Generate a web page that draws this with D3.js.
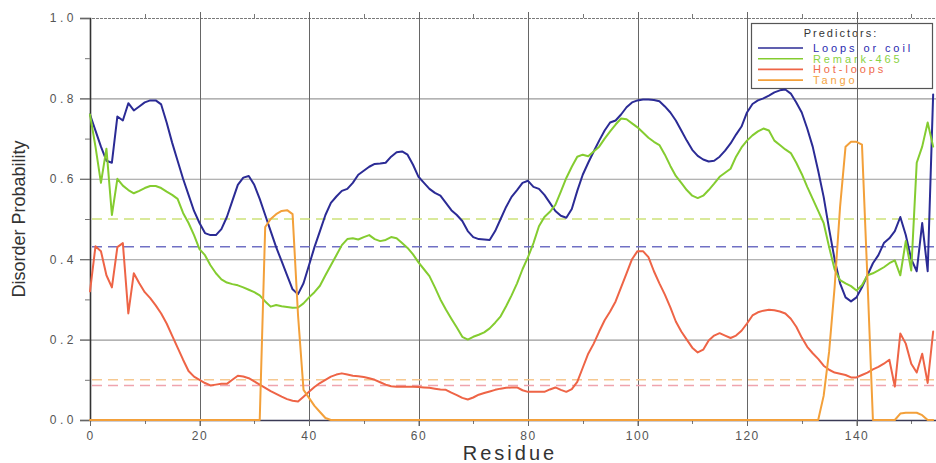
<!DOCTYPE html>
<html>
<head>
<meta charset="utf-8">
<script src="https://cdn.jsdelivr.net/npm/d3@7"></script>
<style>
  html, body { margin: 0; padding: 0; background: #fff; }
  svg { display: block; }
  text { font-family: "Liberation Sans", Arial, sans-serif; }
</style>
</head>
<body>
<svg id="chart" width="936" height="463"></svg>
<script>
// Disorder probability per residue for four predictors
const seriesNames = ["Loops or coil", "Remark-465", "Hot-loops", "Tango"];

const loopsOrCoil = [
  0.76, 0.72, 0.68, 0.645, 0.64, 0.755, 0.745, 0.788, 0.77, 0.78,
  0.79, 0.795, 0.795, 0.785, 0.74, 0.69, 0.645, 0.60, 0.56, 0.52,
  0.49, 0.465, 0.46, 0.46, 0.475, 0.505, 0.545, 0.585, 0.603, 0.607,
  0.585, 0.55, 0.51, 0.47, 0.43, 0.395, 0.36, 0.325, 0.313, 0.34,
  0.385, 0.43, 0.47, 0.51, 0.54, 0.556, 0.57, 0.575, 0.59, 0.61,
  0.62, 0.63, 0.637, 0.638, 0.64, 0.655, 0.666, 0.668, 0.66, 0.635,
  0.605, 0.59, 0.575, 0.565, 0.558, 0.54, 0.522, 0.51, 0.495, 0.47,
  0.455, 0.45, 0.449, 0.448, 0.47, 0.50, 0.53, 0.555, 0.572, 0.59,
  0.595, 0.58, 0.575, 0.56, 0.54, 0.52, 0.508, 0.503, 0.525, 0.57,
  0.61, 0.64, 0.668, 0.695, 0.72, 0.74, 0.745, 0.76, 0.778, 0.79,
  0.795, 0.797, 0.797, 0.796, 0.793, 0.78, 0.765, 0.745, 0.72, 0.695,
  0.672, 0.657, 0.648, 0.643, 0.645, 0.655, 0.67, 0.688, 0.71, 0.73,
  0.765, 0.786, 0.795, 0.80, 0.807, 0.815, 0.82, 0.822, 0.812, 0.79,
  0.765, 0.725, 0.68, 0.62, 0.555, 0.475, 0.40, 0.34, 0.305, 0.295,
  0.305, 0.33, 0.36, 0.39, 0.41, 0.44, 0.452, 0.47, 0.505, 0.46,
  0.40, 0.37, 0.49, 0.37, 0.81
];

const remark465 = [
  0.76, 0.68, 0.59, 0.675, 0.51, 0.60, 0.583, 0.572, 0.564, 0.57,
  0.577, 0.582, 0.582, 0.577, 0.568, 0.56, 0.55, 0.515, 0.49, 0.46,
  0.425, 0.41, 0.385, 0.365, 0.35, 0.342, 0.338, 0.335, 0.33, 0.324,
  0.318, 0.31, 0.295, 0.282, 0.286, 0.283, 0.281, 0.279, 0.28, 0.29,
  0.305, 0.318, 0.334, 0.36, 0.385, 0.41, 0.435, 0.45, 0.452, 0.449,
  0.455, 0.46, 0.45, 0.445, 0.448, 0.455, 0.452, 0.44, 0.428, 0.412,
  0.392, 0.375, 0.358, 0.33, 0.30, 0.275, 0.252, 0.23, 0.207, 0.20,
  0.207, 0.212, 0.218, 0.228, 0.242, 0.258, 0.283, 0.31, 0.34, 0.375,
  0.405, 0.44, 0.482, 0.505, 0.518, 0.535, 0.568, 0.602, 0.63, 0.655,
  0.66, 0.656, 0.668, 0.68, 0.70, 0.718, 0.735, 0.75, 0.748, 0.738,
  0.728, 0.715, 0.702, 0.692, 0.684, 0.66, 0.632, 0.607, 0.59, 0.572,
  0.558, 0.552, 0.558, 0.572, 0.588, 0.605, 0.615, 0.625, 0.655, 0.678,
  0.695, 0.708, 0.718, 0.725, 0.72, 0.695, 0.684, 0.673, 0.664, 0.64,
  0.612, 0.58, 0.55, 0.52, 0.49, 0.43, 0.375, 0.348, 0.34, 0.333,
  0.322, 0.335, 0.36, 0.365, 0.372, 0.38, 0.39, 0.397, 0.36, 0.445,
  0.372, 0.64, 0.68, 0.74, 0.68
];

const hotLoops = [
  0.32, 0.432, 0.42, 0.36, 0.33, 0.43, 0.44, 0.265, 0.365, 0.34,
  0.318, 0.303, 0.285, 0.265, 0.24, 0.21, 0.18, 0.15, 0.122, 0.108,
  0.10, 0.092, 0.086, 0.088, 0.09, 0.09, 0.10, 0.11, 0.108, 0.104,
  0.096, 0.088, 0.08, 0.072, 0.065, 0.058, 0.052, 0.048, 0.046, 0.058,
  0.07, 0.082, 0.092, 0.10, 0.108, 0.113, 0.116, 0.113, 0.11, 0.109,
  0.107, 0.104, 0.10, 0.094, 0.088, 0.084, 0.083, 0.083, 0.083, 0.083,
  0.082, 0.081, 0.08, 0.078, 0.076, 0.075, 0.068, 0.062, 0.055, 0.051,
  0.056, 0.063, 0.067, 0.071, 0.075, 0.078, 0.08, 0.081, 0.081, 0.074,
  0.07, 0.07, 0.07, 0.07, 0.076, 0.081, 0.075, 0.07, 0.077, 0.095,
  0.13, 0.165, 0.19, 0.22, 0.248, 0.27, 0.295, 0.33, 0.365, 0.40,
  0.42, 0.42, 0.405, 0.37, 0.34, 0.312, 0.28, 0.245, 0.22, 0.20,
  0.18, 0.168, 0.175, 0.198, 0.21, 0.216, 0.21, 0.204, 0.21, 0.222,
  0.24, 0.26, 0.268, 0.272, 0.274, 0.273, 0.27, 0.265, 0.252, 0.232,
  0.205, 0.182, 0.166, 0.152, 0.135, 0.125, 0.118, 0.115, 0.112, 0.106,
  0.106, 0.112, 0.118, 0.126, 0.132, 0.14, 0.15, 0.083, 0.215, 0.19,
  0.14, 0.118, 0.165, 0.092, 0.22
];

const tango = [
  0, 0, 0, 0, 0, 0, 0, 0, 0, 0,
  0, 0, 0, 0, 0, 0, 0, 0, 0, 0,
  0, 0, 0, 0, 0, 0, 0, 0, 0, 0,
  0, 0, 0.48, 0.50, 0.512, 0.52, 0.522, 0.512, 0.26, 0.075,
  0.055, 0.035, 0.02, 0.005, 0, 0, 0, 0, 0, 0,
  0, 0, 0, 0, 0, 0, 0, 0, 0, 0,
  0, 0, 0, 0, 0, 0, 0, 0, 0, 0,
  0, 0, 0, 0, 0, 0, 0, 0, 0, 0,
  0, 0, 0, 0, 0, 0, 0, 0, 0, 0,
  0, 0, 0, 0, 0, 0, 0, 0, 0, 0,
  0, 0, 0, 0, 0, 0, 0, 0, 0, 0,
  0, 0, 0, 0, 0, 0, 0, 0, 0, 0,
  0, 0, 0, 0, 0, 0, 0, 0, 0, 0,
  0, 0, 0, 0, 0.06, 0.17, 0.33, 0.53, 0.68, 0.692,
  0.692, 0.685, 0.35, 0, 0, 0, 0, 0, 0.016, 0.018,
  0.018, 0.018, 0.012, 0, 0
];

// Cut-off level of each predictor (drawn dashed)
const thresholdNames = ["Remark-465", "Loops or coil", "Tango", "Hot-loops"];
const thresholdValues = [0.5, 0.431, 0.1, 0.086];

const xTicks = [0, 20, 40, 60, 80, 100, 120, 140];
const xMinorTicks = [10, 30, 50, 70, 90, 110, 130, 150];
const yTicks = [0.0, 0.2, 0.4, 0.6, 0.8, 1.0];
const yMinorTicks = [0.1, 0.3, 0.5, 0.7, 0.9];

const lineColors = {
  "Loops or coil": "#2b2b95",
  "Remark-465": "#84cc30",
  "Hot-loops": "#ee6446",
  "Tango": "#f3a03a"
};
const textColors = {
  "Loops or coil": "#2a2ab0",
  "Remark-465": "#8ad243",
  "Hot-loops": "#f06a4a",
  "Tango": "#f4a443"
};
const dashColors = {
  "Loops or coil": "#7070c4",
  "Remark-465": "#cde27a",
  "Hot-loops": "#efa4ae",
  "Tango": "#f6c890"
};

const svg = d3.select("#chart");
const W = 936, H = 463;
const plotLeft = 90, plotTop = 18, plotBottom = 420;

const x = d3.scaleLinear().domain([0, 155]).range([plotLeft, plotLeft + 155 * 5.475]);
const y = d3.scaleLinear().domain([0, 1]).range([plotBottom, plotTop]);
const rightEdge = W;

// Legend box (grid lines are drawn over it)
const lg = svg.append("g");
lg.append("rect")
  .attr("x", 751.5).attr("y", 23.5).attr("width", 181).attr("height", 65)
  .attr("fill", "#fff").attr("stroke", "#555").attr("stroke-width", 1.2);
lg.append("text")
  .attr("x", 841).attr("y", 37)
  .attr("text-anchor", "middle")
  .attr("font-size", 11).attr("letter-spacing", 2)
  .attr("fill", "#333")
  .text("Predictors:");
seriesNames.forEach((name, i) => {
  const yy = 48 + i * 10.7;
  lg.append("line")
    .attr("x1", 758).attr("x2", 803).attr("y1", yy).attr("y2", yy)
    .attr("stroke", lineColors[name]).attr("stroke-width", 1.6);
  lg.append("text")
    .attr("x", 813).attr("y", yy + 4)
    .attr("font-size", 11).attr("letter-spacing", 2.9)
    .attr("fill", textColors[name])
    .text(name);
});

// Horizontal grid at the major y ticks
const grid = svg.append("g");
grid.selectAll("line.h")
  .data(yTicks.filter(v => v > 0 && v < 1))
  .join("line")
  .attr("x1", plotLeft - 10).attr("x2", rightEdge)
  .attr("y1", d => y(d) + 0.5).attr("y2", d => y(d) + 0.5)
  .attr("stroke", "#9a9a9a").attr("stroke-width", 1.1);

// Top border line
grid.append("line")
  .attr("x1", plotLeft - 10).attr("x2", rightEdge)
  .attr("y1", y(1) + 0.5).attr("y2", y(1) + 0.5)
  .attr("stroke", "#7a7a7a").attr("stroke-width", 1).attr("stroke-dasharray", "3,1");

// Vertical grid at the major x ticks
grid.selectAll("line.v")
  .data(xTicks.filter(v => v > 0))
  .join("line")
  .attr("x1", d => Math.round(x(d)) + 0.5).attr("x2", d => Math.round(x(d)) + 0.5)
  .attr("y1", plotTop - 6).attr("y2", plotBottom + 6)
  .attr("stroke", "#666").attr("stroke-width", 1);

// Minor ticks on the top and bottom edges
grid.selectAll("line.tm")
  .data(xMinorTicks.filter(v => x(v) < W))
  .join("line")
  .attr("x1", d => Math.round(x(d)) + 0.5).attr("x2", d => Math.round(x(d)) + 0.5)
  .attr("y1", plotTop - 4).attr("y2", plotTop)
  .attr("stroke", "#777").attr("stroke-width", 1);
grid.selectAll("line.bm")
  .data(xMinorTicks.filter(v => x(v) < W))
  .join("line")
  .attr("x1", d => Math.round(x(d)) + 0.5).attr("x2", d => Math.round(x(d)) + 0.5)
  .attr("y1", plotBottom).attr("y2", plotBottom + 4)
  .attr("stroke", "#777").attr("stroke-width", 1);

// Y axis with major and minor ticks
const yAxis = d3.axisLeft(y).tickValues(yTicks).tickSize(10).tickFormat(d3.format(".1f"));
const gy = svg.append("g").attr("transform", `translate(${plotLeft},0)`).call(yAxis);
gy.select(".domain").attr("stroke", "#333").attr("stroke-width", 1.6);
gy.selectAll(".tick line").attr("stroke", "#666");
gy.selectAll(".tick text")
  .attr("x", -13)
  .attr("font-size", 12).attr("letter-spacing", 3.5)
  .attr("fill", "#555")
  .attr("font-family", "Liberation Sans, Arial, sans-serif");
gy.selectAll("line.minor")
  .data(yMinorTicks)
  .join("line")
  .attr("x1", -5).attr("x2", 0)
  .attr("y1", d => y(d) + 0.5).attr("y2", d => y(d) + 0.5)
  .attr("stroke", "#777");

// X axis
const xAxis = d3.axisBottom(x).tickValues(xTicks).tickSize(6).tickFormat(d3.format("d"));
const gx = svg.append("g").attr("transform", `translate(0,${plotBottom})`).call(xAxis);
gx.select(".domain").attr("d", `M${plotLeft},0.5H${W}`).attr("stroke", "#3a3a55").attr("stroke-width", 1.6);
gx.selectAll(".tick line").attr("stroke", "#666");
gx.selectAll(".tick text")
  .attr("y", 11)
  .attr("font-size", 12).attr("letter-spacing", 1.5)
  .attr("fill", "#555")
  .attr("font-family", "Liberation Sans, Arial, sans-serif");

// Predictor cut-off levels
svg.append("g").selectAll("line")
  .data(thresholdNames.map((n, i) => ({ name: n, value: thresholdValues[i] })))
  .join("line")
  .attr("x1", plotLeft + 2).attr("x2", rightEdge)
  .attr("y1", d => y(d.value)).attr("y2", d => y(d.value))
  .attr("stroke", d => dashColors[d.name])
  .attr("stroke-width", 1.4)
  .attr("stroke-dasharray", "10,6");

// Predictor curves
const seriesValues = [loopsOrCoil, remark465, hotLoops, tango];
const line = d3.line()
  .x((d, i) => x(i))
  .y(d => y(d));

svg.append("g").selectAll("path")
  .data(seriesNames.map((n, i) => ({ name: n, values: seriesValues[i] })))
  .join("path")
  .attr("d", d => line(d.values))
  .attr("fill", "none")
  .attr("stroke", d => lineColors[d.name])
  .attr("stroke-width", 2)
  .attr("stroke-linejoin", "round")
  .attr("stroke-linecap", "round");

// Axis titles
svg.append("text")
  .attr("transform", `translate(25,${(plotTop + plotBottom) / 2}) rotate(-90)`)
  .attr("text-anchor", "middle")
  .attr("font-size", 18)
  .attr("fill", "#333")
  .text("Disorder Probability");

svg.append("text")
  .attr("x", 510).attr("y", 460)
  .attr("text-anchor", "middle")
  .attr("font-size", 20).attr("letter-spacing", 3)
  .attr("fill", "#333")
  .text("Residue");
</script>
</body>
</html>
